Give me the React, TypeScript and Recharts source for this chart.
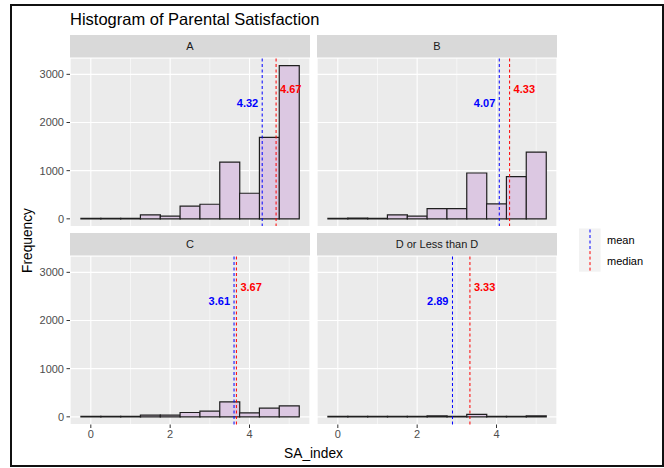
import { BarChart, Bar, XAxis, YAxis, CartesianGrid, ReferenceLine, ReferenceDot } from 'recharts'

// bin centres (binwidth 0.5) and counts per grade facet
const BINS = [0, 0.5, 1, 1.5, 2, 2.5, 3, 3.5, 4, 4.5, 5]
const COUNTS_A = [0, 0, 0, 83, 55, 262, 303, 1179, 531, 1690, 3180]
const COUNTS_B = [0, 15, 0, 83, 55, 214, 214, 952, 310, 876, 1386]
const COUNTS_C = [0, 0, 0, 34, 34, 90, 117, 310, 83, 180, 228]
const COUNTS_D = [5, 0, 3, 3, 5, 22, 10, 50, 5, 10, 22]

const FACETS = ['A', 'B', 'C', 'D or Less than D']
const MEANS = [4.32, 4.07, 3.61, 2.89]
const MEDIANS = [4.67, 4.33, 3.67, 3.33]
const MEAN_LABEL_Y = 2400
const MEDIAN_LABEL_Y = 2700

const X_TICKS = [0, 2, 4]
const X_MINOR = [1, 3, 5]
const Y_TICKS = [0, 1000, 2000, 3000]
const Y_MINOR = [500, 1500, 2500]
const X_DOMAIN = [-0.525, 5.525]
const Y_DOMAIN = [-159, 3339]

const LEGEND = [
  { label: 'mean', colour: '#0000FF' },
  { label: 'median', colour: '#FF0000' },
]

const FONT = '"Liberation Sans", Arial, sans-serif'
const PANEL_H = 168.5
const PANEL_W = 240
const AXIS_W = 50
const AXIS_H = 20
const DASH = '3 2.5'

const tickStyle = { fill: '#4D4D4D', fontSize: 11, fontFamily: FONT }

interface PanelProps {
  counts: number[]
  mean: number
  median: number
  showX: boolean
  showY: boolean
  left: number
  top: number
}

function Panel({ counts, mean, median, showX, showY, left, top }: PanelProps) {
  const data = BINS.map((x, i) => ({ x, count: counts[i] }))
  const w = PANEL_W + (showY ? AXIS_W : 0)
  const h = PANEL_H + (showX ? AXIS_H : 0)
  return (
    <div style={{ position: 'absolute', left: showY ? left - AXIS_W : left, top }}>
      <BarChart width={w} height={h} data={data} margin={{ top: 0, right: 0, bottom: 0, left: 0 }}
        barCategoryGap={0} barGap={0}>
        <XAxis xAxisId="minor" type="number" dataKey="x" domain={X_DOMAIN} ticks={X_MINOR} hide />
        <YAxis yAxisId="minor" type="number" domain={Y_DOMAIN} ticks={Y_MINOR} hide />
        <XAxis
          type="number"
          dataKey="x"
          domain={X_DOMAIN}
          ticks={X_TICKS}
          hide={!showX}
          height={AXIS_H}
          axisLine={false}
          tickLine={{ stroke: '#333333' }}
          tickSize={3.5}
          tickMargin={2.5}
          tick={tickStyle}
          allowDataOverflow
        />
        <YAxis
          type="number"
          domain={Y_DOMAIN}
          ticks={Y_TICKS}
          hide={!showY}
          width={AXIS_W}
          axisLine={false}
          tickLine={{ stroke: '#333333' }}
          tickSize={3.5}
          tickMargin={2.5}
          tick={tickStyle}
          allowDataOverflow
        />
        <CartesianGrid xAxisId="minor" yAxisId="minor" stroke="#FFFFFF" strokeWidth={0.55} fill="#EBEBEB" />
        <CartesianGrid stroke="#FFFFFF" strokeWidth={1.1} />
        <Bar dataKey="count" fill="#DCC8E2" stroke="#1F1F1F" strokeWidth={1.2}
          minPointSize={0.5} isAnimationActive={false} />
        <ReferenceLine x={mean} stroke="#0000FF" strokeDasharray={DASH} strokeWidth={1} />
        <ReferenceLine x={median} stroke="#FF0000" strokeDasharray={DASH} strokeWidth={1} />
        <ReferenceDot x={mean} y={MEAN_LABEL_Y} r={0} fill="none" stroke="none"
          label={{ value: mean.toFixed(2), position: 'left', offset: 4, fill: '#0000FF',
            fontSize: 11, fontWeight: 'bold', fontFamily: FONT }} />
        <ReferenceDot x={median} y={MEDIAN_LABEL_Y} r={0} fill="none" stroke="none"
          label={{ value: median.toFixed(2), position: 'right', offset: 4, fill: '#FF0000',
            fontSize: 11, fontWeight: 'bold', fontFamily: FONT }} />
      </BarChart>
    </div>
  )
}

const COLS = [70, 317]
const STRIP_TOPS = [35, 233]
const STRIP_H = 22.5

export default function App() {
  const allCounts = [COUNTS_A, COUNTS_B, COUNTS_C, COUNTS_D]
  return (
    <div style={{ position: 'absolute', left: 0, top: 0, width: 664, height: 468, background: '#FFFFFF', fontFamily: FONT }}>
      <div style={{ position: 'absolute', left: 9.5, top: 4, width: 654, height: 463, border: '2px solid #111', boxSizing: 'border-box' }} />
      {FACETS.map((f, i) => {
        const col = i % 2
        const row = Math.floor(i / 2)
        return (
          <Panel
            key={f}
            counts={allCounts[i]}
            mean={MEANS[i]}
            median={MEDIANS[i]}
            showX={row === 1}
            showY={col === 0}
            left={COLS[col]}
            top={STRIP_TOPS[row] + STRIP_H}
          />
        )
      })}
      <svg width={664} height={468} style={{ position: 'absolute', left: 0, top: 0, pointerEvents: 'none' }}
        fontFamily={FONT}>
        <text x={70} y={25} fontSize={16.5} fill="#000">Histogram of Parental Satisfaction</text>
        {FACETS.map((f, i) => {
          const x = COLS[i % 2]
          const y = STRIP_TOPS[Math.floor(i / 2)]
          return (
            <g key={f}>
              <rect x={x} y={y} width={PANEL_W} height={STRIP_H} fill="#D9D9D9" />
              <text x={x + PANEL_W / 2} y={y + STRIP_H / 2 + 4} fontSize={11} fill="#1A1A1A" textAnchor="middle">{f}</text>
            </g>
          )
        })}
        <text transform="translate(32,240.5) rotate(-90)" fontSize={13.75} fill="#000" textAnchor="middle">Frequency</text>
        <text x={313.5} y={458} fontSize={13.75} fill="#000" textAnchor="middle">SA_index</text>
        {LEGEND.map((item, i) => {
          const y = 228.5 + i * 21.6
          return (
            <g key={item.label}>
              <rect x={579} y={y} width={21.6} height={21.6} fill="#F2F2F2" />
              <line x1={590} x2={590} y1={y + 1} y2={y + 20.6} stroke={item.colour} strokeWidth={1} strokeDasharray={DASH} />
              <text x={607} y={y + 15} fontSize={11} fill="#000">{item.label}</text>
            </g>
          )
        })}
      </svg>
    </div>
  )
}
